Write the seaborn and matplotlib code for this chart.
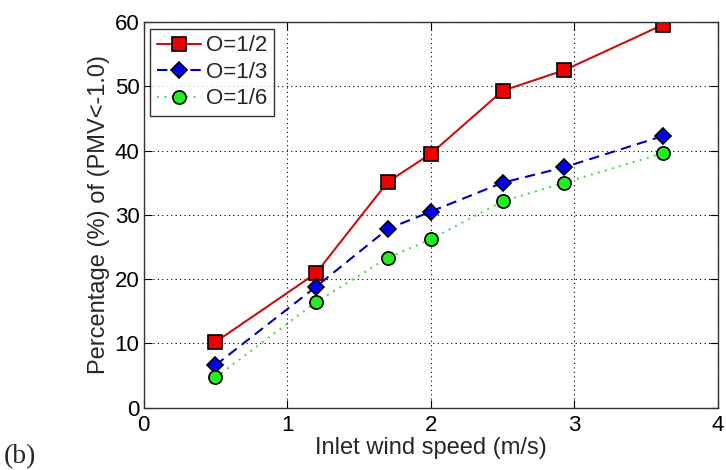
import matplotlib
matplotlib.use("Agg")
import matplotlib.pyplot as plt
import seaborn as sns
import pandas as pd

speed = [0.5, 1.2, 1.7, 2.0, 2.5, 2.93, 3.62]
o_half = [10.2, 20.9, 35.1, 39.5, 49.3, 52.5, 59.6]
o_third = [6.6, 18.8, 27.8, 30.5, 35.0, 37.4, 42.3]
o_sixth = [4.7, 16.4, 23.3, 26.2, 32.1, 35.0, 39.6]
labels = ["O=1/2", "O=1/3", "O=1/6"]
xticks = [0, 1, 2, 3, 4]
yticks = [0, 10, 20, 30, 40, 50, 60]

sns.set_theme(style="white")
plt.rcParams["font.family"] = ["Liberation Sans", "DejaVu Sans"]

fig = plt.figure(figsize=(7.26, 4.70), dpi=100)
ax = fig.add_axes([0.1977, 0.1326, 0.7913, 0.8206])

styles = [
    dict(color="#c81010", linestyle="-", marker="s", mfc="#ee0000", ms=9.5),
    dict(color="#0000bb", linestyle=(0, (5, 3)), marker="D", mfc="#0000ee", ms=8),
    dict(color="#55dd55", linestyle=(0, (1, 2.5)), marker="o", mfc="#22ee22", ms=9.5),
]
for vals, lab, st in zip([o_half, o_third, o_sixth], labels, styles):
    df = pd.DataFrame({"x": speed, "y": vals})
    sns.lineplot(data=df, x="x", y="y", ax=ax, label=lab, color=st["color"],
                 linestyle=st["linestyle"], marker=st["marker"],
                 markerfacecolor=st["mfc"], markeredgecolor="black",
                 markeredgewidth=1.2, markersize=st["ms"], linewidth=1.5)

ax.set_xlim(0, 4)
ax.set_ylim(0, 60)
ax.set_xticks(xticks)
ax.set_yticks(yticks)
ax.grid(True, color="black", linestyle=(0, (1, 3)), linewidth=0.8)
ax.tick_params(direction="in", length=6, top=True, right=True, labelsize=16,
               colors="black", bottom=True, left=True, width=0.8)
ax.tick_params(axis="x", pad=5)
ax.tick_params(axis="y", pad=3)
for s in ax.spines.values():
    s.set_color("#333333")
    s.set_linewidth(1.0)
ax.set_xlabel("Inlet wind speed (m/s)", fontsize=17, labelpad=1)
ax.set_ylabel("Percentage (%) of (PMV<-1.0)", fontsize=17, labelpad=3)

leg = ax.legend(loc="upper left", fontsize=16, frameon=True, fancybox=False,
                edgecolor="black", handlelength=2.0, borderpad=0.3,
                labelspacing=0.25, handletextpad=0.2, borderaxespad=0.3)
leg.get_frame().set_linewidth(1.0)

fig.text(0.005, 0.015, "(b)", fontsize=20, family=["Liberation Serif", "DejaVu Serif"])

fig.savefig("out.png", dpi=100, facecolor="white")
